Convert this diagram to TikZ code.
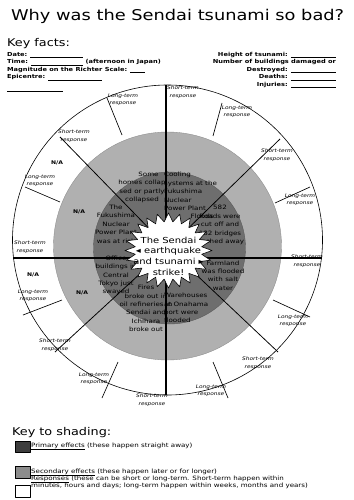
\documentclass[tikz,border=0pt]{standalone}
\usepackage{fontspec}
\setmainfont{DejaVu Sans}[FakeStretch=1.2]
\newfontfamily\boldface{DejaVu Sans Bold}[FakeStretch=1.2]
\newfontfamily\obliqueface{DejaVu Sans Oblique}[FakeStretch=1.2]
\definecolor{ringgray}{gray}{0.69}
\definecolor{coregray}{gray}{0.43}
\definecolor{keydark}{gray}{0.24}
\definecolor{keymid}{gray}{0.55}
\newcommand{\blank}[1]{\rule[-1.8pt]{#1}{0.7pt}}
\begin{document}
\begin{tikzpicture}[x=1.686pt,y=-1.686pt,line join=round]
  \tikzset{resp/.style={font=\fontsize{8.2}{12.4}\obliqueface, align=center, inner sep=0pt},
    na/.style={font=\fontsize{8.5}{10}\boldface, inner sep=0pt},
    effect/.style={font=\fontsize{10}{14.2}\selectfont, align=center, inner sep=0pt},
    fact/.style={font=\fontsize{9.3}{12.6}\boldface, inner sep=0pt},
    keytext/.style={font=\fontsize{10}{11.8}\selectfont, align=left, inner sep=0pt, anchor=base west},
    tick/.style={line width=1.1pt},
    keybox/.style={draw, line width=0.8pt}}
  \useasboundingbox (0,0) rectangle (353,500);

  % heading and key facts
  \node[anchor=base west, inner sep=0pt, font=\fontsize{25}{30}\selectfont] (title) at (11,21) {Why was the Sendai tsunami so bad?};
  \node[anchor=base west, inner sep=0pt, font=\fontsize{18}{22}\selectfont] (facts) at (7,46.5) {Key facts:};
  \node[fact, anchor=base west] (date) at (7,56.5) {Date: \blank{88pt}};
  \node[fact, anchor=base west] (time) at (7,64) {Time: \blank{88pt} (afternoon in Japan)};
  \node[fact, anchor=base west] (magnitude) at (7,71.5) {Magnitude on the Richter Scale: \blank{24pt}};
  \node[fact, anchor=base west] (epicentre) at (7,79) {Epicentre: \blank{91pt}};
  \node[fact, anchor=base west] (extra) at (7,90) {\blank{94pt}};
  \node[fact, anchor=base east] (height) at (336,56.5) {Height of tsunami: \blank{76pt}};
  \node[fact, anchor=base east] (buildings) at (336,64) {Number of buildings damaged or};
  \node[fact, anchor=base east] (destroyed) at (336,71.5) {Destroyed: \blank{76pt}};
  \node[fact, anchor=base east] (deaths) at (336,79) {Deaths: \blank{76pt}};
  \node[fact, anchor=base east] (injuries) at (336,86.5) {Injuries: \blank{76pt}};

  % rings
  \draw[line width=1pt, fill=white] (167.5,240) circle (155);
  \draw[ringgray!80!black, line width=0.6pt, fill=ringgray] (167.5,246) circle (114);
  \draw[coregray!80!black, line width=0.6pt, fill=coregray] (169.5,248) circle (76);

  % effects
  \node[effect] (homes) at (142,187.5) {\hspace*{2.2em}Some\\homes collap\\sed or partly\\collapsed};
  \node[effect, align=left, anchor=west] (cooling) at (164,191.5) {Cooling\\systems at the\\Fukushima\\Nuclear\\Power Plant};
  \node[effect] (roads) at (220,225) {582\\Roads were\\cut off and\\182 bridges\\washed away};
  \node[effect] (floods) at (202,216.5) {Floods};
  \node[effect] (risk) at (116,224) {The\\Fukushima\\Nuclear\\Power Plant\\was at risk};
  \node[effect] (tokyo) at (116,275.5) {Office\\buildings in\\Central\\Tokyo just\\swayed};
  \node[effect] (fires) at (146,308.5) {Fires\\broke out in\\oil refineries in\\Sendai and\\Ichihara\\broke out};
  \node[effect, align=left, anchor=west] (warehouses) at (164,308) {Warehouses\\at Onahama\\port were\\flooded};
  \node[effect] (farmland) at (223,275.5) {Farmland\\was flooded\\with salt\\water};

  % dividers
  \coordinate (hub) at (168,248);
  \coordinate (nw) at (60,137);
  \coordinate (ne) at (280,139);
  \coordinate (sw) at (55,352);
  \coordinate (se) at (278,352);
  \foreach \c in {nw,ne,sw,se}
    \draw[line width=1.3pt] (\c) -- (hub);
  \draw[tick] (107,98) -- (122,135);
  \draw[tick] (25,187) -- (60,202);
  \draw[tick] (222,103) -- (213,136);
  \draw[tick] (310,187) -- (275,203);
  \draw[tick] (273,300) -- (310,317);
  \draw[tick] (213,362) -- (228,398);
  \draw[tick] (118,362) -- (102,398);
  \draw[tick] (62,300) -- (23,315);
  \coordinate (west) at (13,258);
  \coordinate (east) at (322,258);
  \draw[line width=2pt] (west) -- (east);
  \coordinate (top) at (166,85);
  \coordinate (bottom) at (166,395);
  \draw[line width=3.2pt] (top) -- (bottom);

  % starburst
  \draw[line width=1pt, fill=white] plot[samples at={0,7.5,...,352.5}, variable=\a]
    ({168.5+43.5*(1-0.23*mod(round(\a/7.5),2))*cos(\a)}, {250.5+37.5*(1-0.23*mod(round(\a/7.5),2))*sin(\a)}) -- cycle;
  \node[align=center, inner sep=0pt, font=\fontsize{14}{18}\selectfont] (strike) at (168.5,256) {The Sendai\\◂ earthquake\\and tsunami ▸\\strike!};

  % responses
  \node[resp] (r1) at (183,92) {Short-term\\response};
  \node[resp] (r2) at (237,112) {Long-term\\response};
  \node[resp] (r3) at (277,155) {Short-term\\response};
  \node[resp] (r4) at (300,200) {Long-term\\response};
  \node[resp] (r5) at (307,261) {Short-term\\response};
  \node[resp] (r6) at (293,321) {Long-term\\response};
  \node[resp] (r7) at (258,363) {Short-term\\response};
  \node[resp] (r8) at (211,391) {Long-term\\response};
  \node[resp] (r9) at (152,400) {Short-term\\response};
  \node[resp] (r10) at (94,379) {Long-term\\response};
  \node[resp] (r11) at (55,345) {Short-term\\response};
  \node[resp] (r12) at (33,296) {Long-term\\response};
  \node[resp] (r13) at (30,247) {Short-term\\response};
  \node[resp] (r14) at (40,181) {Long-term\\response};
  \node[resp] (r15) at (74,136) {Short-term\\response};
  \node[resp] (r16) at (123,100) {Long-term\\response};
  \node[na] (na1) at (57,163) {N/A};
  \node[na] (na2) at (79,212) {N/A};
  \node[na] (na3) at (33,275) {N/A};
  \node[na] (na4) at (82,293) {N/A};

  % key to shading
  \node[anchor=base west, inner sep=0pt, font=\fontsize{18}{22}\selectfont] (key) at (12,435) {Key to shading:};
  \draw[keybox, fill=keydark] (15,441) rectangle (30,452);
  \node[keytext] (primary) at (31,447.5) {\underline{Primary effects} (these happen straight away)};
  \draw[keybox, fill=keymid] (15,466) rectangle (30,478);
  \node[keytext] (secondary) at (31,487.5) {\underline{Secondary effects} (these happen later or for longer)\\\underline{Responses} (these can be short or long-term. Short-term happen within\\minutes, hours and days; long-term happen within weeks, months and years)};
  \draw[keybox, fill=white] (15,485) rectangle (30,497);
\end{tikzpicture}
\end{document}
